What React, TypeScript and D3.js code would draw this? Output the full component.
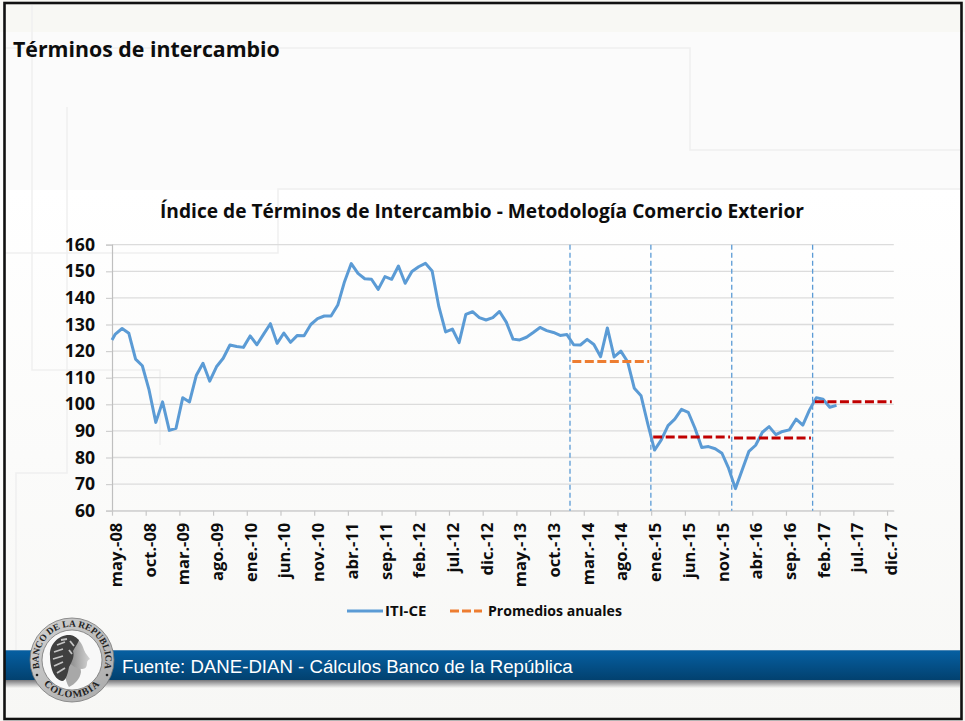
import React, { useEffect, useRef } from 'react';
import * as d3 from 'd3';

const W = 965;
const H = 721;

const FONT = '"Open Sans", "Noto Sans", sans-serif';

// first value is the clipped stub the line starts with on the axis
const iti = [
  124.2,
  126.4, 128.5, 126.7, 117.0, 114.5, 105.4, 93.2, 100.9, 90.2, 91.0, 102.5, 100.9,
  110.8, 115.4, 108.7, 114.1, 117.3, 122.3, 121.7, 121.4, 125.7, 122.4, 126.4, 130.3,
  122.9, 126.8, 123.3, 125.9, 125.8, 130.0, 132.2, 133.2, 133.2, 137.3, 146.1, 152.9,
  149.2, 147.2, 147.0, 143.2, 148.0, 147.0, 152.0, 145.5, 149.9, 151.7, 153.0, 150.1,
  136.7, 127.2, 128.3, 123.2, 133.8, 134.8, 132.6, 131.7, 132.6, 134.9, 130.9, 124.5,
  124.2, 125.2, 127.0, 128.9, 127.7, 127.0, 125.9, 126.2, 122.4, 122.3, 124.4, 122.5,
  117.9, 128.7, 117.8, 120.0, 116.0, 106.0, 103.2, 92.6, 82.8, 86.6, 92.0, 94.4,
  98.1, 97.0, 91.0, 83.8, 84.1, 83.3, 81.6, 75.9, 68.3, 75.3, 82.3, 84.6,
  89.5, 91.6, 88.6, 89.8, 90.4, 94.4, 92.2, 97.9, 102.5, 101.9, 98.9, 99.6,
];

const tickLabels = [
  'may.-08', 'oct.-08', 'mar.-09', 'ago.-09', 'ene.-10', 'jun.-10', 'nov.-10', 'abr.-11',
  'sep.-11', 'feb.-12', 'jul.-12', 'dic.-12', 'may.-13', 'oct.-13', 'mar.-14', 'ago.-14',
  'ene.-15', 'jun.-15', 'nov.-15', 'abr.-16', 'sep.-16', 'feb.-17', 'jul.-17', 'dic.-17',
];

const yTicks = [60, 70, 80, 90, 100, 110, 120, 130, 140, 150, 160];

// month index where each year starts, and the dashed guides that mark them
const yearStarts = [68, 80, 92, 104];
const promedios = [
  { from: 68, to: 80, value: 116.1, color: '#ed7d31' },
  { from: 80, to: 92, value: 87.7, color: '#c00000' },
  { from: 92, to: 104, value: 87.3, color: '#c00000' },
  { from: 104, to: 116, value: 101.0, color: '#c00000' },
];

const App = () => {
  const svgRef = useRef<SVGSVGElement>(null);

  useEffect(() => {
    const svg = d3.select(svgRef.current);
    svg.selectAll('*').remove();

    const x = d3.scaleLinear().domain([0, 116]).range([112, 893.8]);
    const y = d3.scaleLinear().domain([60, 160]).range([510.7, 244.7]);

    const defs = svg.append('defs');
    const band = defs.append('linearGradient').attr('id', 'band').attr('x2', 0).attr('y2', 1);
    band.append('stop').attr('offset', 0).attr('stop-color', '#0660a3');
    band.append('stop').attr('offset', 1).attr('stop-color', '#02416f');
    const shadow = defs.append('linearGradient').attr('id', 'shadow').attr('x2', 0).attr('y2', 1);
    shadow.append('stop').attr('offset', 0).attr('stop-color', '#77777a');
    shadow.append('stop').attr('offset', 1).attr('stop-color', '#f6f6f4');
    const bottom = defs.append('linearGradient').attr('id', 'bg').attr('x2', 0).attr('y2', 1);
    bottom.append('stop').attr('offset', 0).attr('stop-color', '#ffffff');
    bottom.append('stop').attr('offset', 1).attr('stop-color', '#f7f7f5');
    const ring = defs.append('linearGradient').attr('id', 'ring').attr('x2', 1).attr('y2', 1);
    ring.append('stop').attr('offset', 0).attr('stop-color', '#d2d2d2');
    ring.append('stop').attr('offset', 1).attr('stop-color', '#a9a9a9');
    const face = defs.append('linearGradient').attr('id', 'face').attr('x2', 1).attr('y2', 0);
    face.append('stop').attr('offset', 0).attr('stop-color', '#777777');
    face.append('stop').attr('offset', 1).attr('stop-color', '#d4d4d4');
    defs.append('filter').attr('id', 'soft').append('feGaussianBlur').attr('stdDeviation', 0.6);

    // slide background
    svg.append('rect').attr('width', W).attr('height', H).attr('fill', '#fbfbfb');
    svg.append('rect').attr('width', W).attr('height', 32).attr('fill', '#f8f8f4');
    svg.append('rect').attr('y', 190).attr('width', W).attr('height', 531).attr('fill', 'url(#bg)');

    const decor = [
      'M5,48H690V150H960',
      'M960,189H278V253H5',
      'M32,5V370H160V445',
      'M67,107V473H16V650',
    ];
    svg.append('g').selectAll('path').data(decor).enter().append('path')
      .attr('d', d => d)
      .attr('fill', 'none')
      .attr('stroke', '#f0f0f0')
      .attr('stroke-width', 1.5);

    svg.append('text')
      .attr('x', 13)
      .attr('y', 57)
      .attr('font-family', FONT)
      .attr('font-weight', 700)
      .attr('font-size', 21.3)
      .attr('fill', '#0d0d0d')
      .text('Términos de intercambio');

    svg.append('text')
      .attr('x', 482)
      .attr('y', 218)
      .attr('text-anchor', 'middle')
      .attr('font-family', FONT)
      .attr('font-weight', 700)
      .attr('font-size', 19.15)
      .attr('fill', '#0d0d0d')
      .text('Índice de Términos de Intercambio - Metodología Comercio Exterior');

    // gridlines
    svg.append('g').selectAll('line').data(yTicks).enter().append('line')
      .attr('x1', x(0))
      .attr('x2', x(116))
      .attr('y1', d => y(d))
      .attr('y2', d => y(d))
      .attr('stroke', '#dcdcdc')
      .attr('stroke-width', 1.3);

    // axes
    const yAxis = svg.append('g')
      .attr('transform', `translate(${x(0)},0)`)
      .call(d3.axisLeft(y).tickValues(yTicks).tickSize(6).tickPadding(11).tickFormat(d3.format('d')));
    yAxis.select('.domain').attr('stroke', '#bfbfbf').attr('stroke-width', 1.2);
    yAxis.selectAll('.tick line').attr('stroke', '#d0d0d0').attr('stroke-width', 1.2);
    yAxis.selectAll('text')
      .attr('font-family', FONT)
      .attr('font-weight', 700)
      .attr('font-size', 17.6)
      .attr('fill', '#0d0d0d');

    const xAxis = svg.append('g')
      .attr('transform', `translate(0,${y(60)})`)
      .call(d3.axisBottom(x)
        .tickValues(d3.range(0, 116, 5))
        .tickSize(5)
        .tickSizeOuter(0)
        .tickFormat((_, i) => tickLabels[i]));
    xAxis.select('.domain').attr('stroke', '#d0d0d0').attr('stroke-width', 1.2);
    xAxis.selectAll('.tick line').attr('stroke', '#c8c8c8').attr('stroke-width', 1.2);
    xAxis.selectAll('text')
      .attr('font-family', FONT)
      .attr('font-weight', 700)
      .attr('font-size', 16.5)
      .attr('fill', '#0d0d0d')
      .attr('text-anchor', 'end')
      .attr('transform', 'translate(9.5,12) rotate(-90)')
      .attr('x', 0)
      .attr('y', 0)
      .attr('dy', 0);

    // year guides
    svg.append('g').selectAll('line').data(yearStarts).enter().append('line')
      .attr('x1', d => x(d) - 0.3)
      .attr('x2', d => x(d) - 0.3)
      .attr('y1', y(160))
      .attr('y2', y(60))
      .attr('stroke', '#5b9bd5')
      .attr('stroke-width', 1.3)
      .attr('stroke-dasharray', '5 3');

    const line = d3.line<number>()
      .x((_, i) => x(Math.max(0, i - 0.5)))
      .y(d => y(d));

    svg.append('path')
      .datum(iti)
      .attr('fill', 'none')
      .attr('stroke', '#5b9bd5')
      .attr('stroke-width', 3)
      .attr('stroke-linejoin', 'round')
      .attr('d', line);

    // annual averages
    svg.append('g').selectAll('line').data(promedios).enter().append('line')
      .attr('x1', d => x(d.from + 0.3))
      .attr('x2', d => x(d.to - 0.3))
      .attr('y1', d => y(d.value))
      .attr('y2', d => y(d.value))
      .attr('stroke', d => d.color)
      .attr('stroke-width', 3)
      .attr('stroke-dasharray', '9 3.5');

    // legend
    const legend = svg.append('g')
      .attr('font-family', FONT)
      .attr('font-weight', 700)
      .attr('font-size', 14.1)
      .attr('fill', '#0d0d0d');
    legend.append('line')
      .attr('x1', 347).attr('x2', 383).attr('y1', 611).attr('y2', 611)
      .attr('stroke', '#5b9bd5').attr('stroke-width', 3);
    legend.append('text').attr('x', 385).attr('y', 616).attr('font-size', 15).text('ITI-CE');
    legend.append('line')
      .attr('x1', 450).attr('x2', 482).attr('y1', 611).attr('y2', 611)
      .attr('stroke', '#ed7d31').attr('stroke-width', 3).attr('stroke-dasharray', '9 3');
    legend.append('text').attr('x', 488).attr('y', 616).text('Promedios anuales');

    // footer band
    svg.append('rect').attr('x', 5).attr('y', 680).attr('width', 955).attr('height', 8).attr('fill', 'url(#shadow)');
    svg.append('rect').attr('x', 5).attr('y', 650).attr('width', 955).attr('height', 30).attr('fill', 'url(#band)');
    svg.append('rect').attr('x', 5).attr('y', 650).attr('width', 955).attr('height', 1).attr('fill', '#4a86b4');
    svg.append('text')
      .attr('x', 122)
      .attr('y', 673)
      .attr('font-family', '"Liberation Sans", Arial, sans-serif')
      .attr('font-size', 18.65)
      .attr('fill', '#ffffff')
      .text('Fuente: DANE-DIAN - Cálculos Banco de la República');

    // seal
    const seal = svg.append('g').attr('transform', 'translate(72,660)');
    seal.append('circle').attr('r', 42).attr('fill', 'url(#ring)').attr('stroke', '#777777').attr('stroke-width', 0.8);
    seal.append('circle').attr('r', 30).attr('fill', '#f8f8f8').attr('stroke', '#666666').attr('stroke-width', 0.7);
    seal.append('circle').attr('cx', -35).attr('cy', 15).attr('r', 1.3).attr('fill', '#222222');
    seal.append('circle').attr('cx', 35).attr('cy', 15).attr('r', 1.3).attr('fill', '#222222');
    defs.append('path').attr('id', 'sealTop').attr('d', 'M-25.6,21.5A33.4,33.4 0 1 1 25.6,21.5');
    defs.append('path').attr('id', 'sealBottom').attr('d', 'M-30,22A37,37 0 0 0 30,22');
    const sealText = seal.append('g')
      .attr('font-family', '"Liberation Serif", serif')
      .attr('font-weight', 700)
      .attr('fill', '#222222');
    sealText.append('text').attr('font-size', 9.4)
      .append('textPath').attr('href', '#sealTop').attr('startOffset', '50%').attr('text-anchor', 'middle')
      .text('BANCO DE LA REPUBLICA');
    sealText.append('text').attr('font-size', 10).attr('letter-spacing', 1)
      .append('textPath').attr('href', '#sealBottom').attr('startOffset', '50%').attr('text-anchor', 'middle')
      .text('COLOMBIA');
    const head = seal.append('g').attr('filter', 'url(#soft)');
    // neck
    head.append('path')
      .attr('d', 'M-8,10C-7,18 -5,24 -3,27C3,24 8,19 9,12L8,4L-4,2Z')
      .attr('fill', '#a8a8a8');
    // face
    head.append('path')
      .attr('d', 'M-5,-22C3,-25 9,-19 11,-13C12,-9 14,-6 18,-1C16,0 15,1 15,3C15,6 14,9 10,9C4,9 0,5 -4,2L-8,-8Z')
      .attr('fill', 'url(#face)');
    // wreath and hair
    head.append('path')
      .attr('d', 'M-3,-25C-14,-25 -23,-15 -22,-4C-22,6 -19,19 -10,21C-6,21 -4,13 -3,7C-1,3 3,-3 1,-9C3,-13 6,-17 7,-20C3,-24 0,-25 -3,-25Z')
      .attr('fill', '#3f3f3f');
    head.append('path')
      .attr('d', 'M-15,-15L-7,-18M-18,-8L-9,-11M-19,-1L-9,-4M-18,6L-9,2M-15,13L-7,8M-11,-20L-5,-21M-2,-19L2,-14M-3,-10L0,-6')
      .attr('fill', 'none')
      .attr('stroke', '#c4c4c4')
      .attr('stroke-width', 1.8);

    // frame
    svg.append('rect')
      .attr('x', 4.5)
      .attr('y', 3)
      .attr('width', 957)
      .attr('height', 716)
      .attr('fill', 'none')
      .attr('stroke', '#111111')
      .attr('stroke-width', 2.6);
  }, []);

  return (
    <svg
      ref={svgRef}
      width={W}
      height={H}
      style={{ position: 'absolute', left: 0, top: 0, display: 'block' }}
    />
  );
};

export default App;
